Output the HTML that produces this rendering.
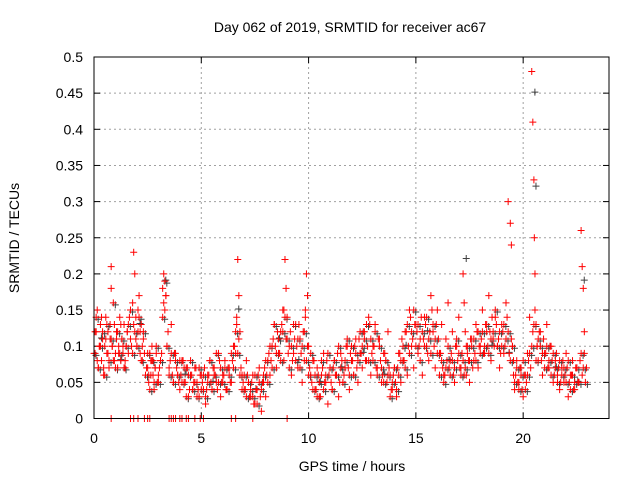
<!DOCTYPE html>
<html><head><meta charset="utf-8"><style>
body{margin:0;background:#fff}
svg{display:block;font-family:"Liberation Sans",sans-serif}
</style></head><body>
<svg id="chart" width="640" height="480">
<text x="350" y="32" text-anchor="middle" font-size="14">Day 062 of 2019, SRMTID for receiver ac67</text>
<text x="352" y="471" text-anchor="middle" font-size="14">GPS time / hours</text>
<text transform="translate(19,238) rotate(-90)" text-anchor="middle" font-size="14">SRMTID / TECUs</text>
<g id="grid"></g><g id="axes"></g><g id="gray"></g><g id="red"></g>
<rect x="94" y="57" width="515" height="361.5" fill="none" stroke="#000" stroke-width="1"/>
</svg>
<script>
const xTicks=[0,5,10,15,20];
const yTicks=[0,0.05,0.1,0.15,0.2,0.25,0.3,0.35,0.4,0.45,0.5];
const yTickLabels=["0","0.05","0.1","0.15","0.2","0.25","0.3","0.35","0.4","0.45","0.5"];
const redT=[0.05,0.1,0.15,0.2,0.25,0.3,0.35,0.4,0.45,0.5,0.55,0.6,0.65,0.7,0.75,0.8,0.8,0.85,0.9,0.95,1.0,1.05,1.1,1.15,1.2,1.25,1.3,1.35,1.4,1.45,1.5,1.55,1.6,1.7,1.8,1.85,1.9,1.95,2.0,2.05,2.1,2.15,2.2,2.25,2.3,2.5,2.55,2.6,2.65,2.7,2.75,2.8,2.85,2.9,3.0,3.1,3.2,3.25,3.3,3.35,3.4,3.5,3.6,3.7,3.8,3.9,4.0,4.1,4.2,4.3,4.4,4.5,4.6,4.7,4.8,4.9,5.0,5.1,5.2,5.3,5.4,5.5,5.6,5.7,5.8,5.9,6.0,6.1,6.2,6.3,6.4,6.5,6.6,6.65,6.7,6.75,6.8,6.9,7.0,7.1,7.2,7.3,7.4,7.5,7.6,7.7,7.8,7.9,8.0,8.1,8.2,8.3,8.4,8.5,8.6,8.7,8.8,8.85,8.9,8.95,9.0,9.1,9.2,9.3,9.4,9.5,9.6,9.7,9.8,9.85,9.9,9.95,10.0,10.1,10.2,10.3,10.4,10.5,10.6,10.7,10.8,10.9,11.0,11.1,11.2,11.3,11.4,11.5,11.6,11.7,11.8,11.9,12.0,12.1,12.2,12.3,12.4,12.5,12.6,12.7,12.8,12.9,13.0,13.1,13.2,13.3,13.4,13.5,13.6,13.7,13.8,13.9,14.0,14.1,14.2,14.3,14.4,14.5,14.6,14.7,14.8,14.9,15.0,15.1,15.2,15.3,15.4,15.5,15.6,15.7,15.8,15.9,16.0,16.1,16.2,16.3,16.4,16.5,16.6,16.7,16.8,16.9,17.0,17.1,17.2,17.25,17.3,17.35,17.4,17.5,17.6,17.7,17.8,17.9,18.0,18.1,18.2,18.3,18.4,18.5,18.6,18.7,18.8,18.9,19.0,19.1,19.2,19.3,19.4,19.45,19.5,19.55,19.6,19.7,19.8,19.9,20.0,20.1,20.2,20.3,20.4,20.45,20.5,20.52,20.55,20.6,20.65,20.7,20.8,20.9,21.0,21.1,21.2,21.3,21.4,21.5,21.6,21.7,21.8,21.9,22.0,22.1,22.2,22.3,22.4,22.5,22.6,22.7,22.75,22.8,22.85];
const redV=[0.09,0.12,0.15,0.07,0.1,0.13,0.08,0.11,0.06,0.1,0.14,0.09,0.12,0.07,0.11,0.21,0.18,0.1,0.08,0.13,0.09,0.12,0.07,0.1,0.14,0.08,0.11,0.09,0.13,0.07,0.1,0.12,0.09,0.11,0.16,0.23,0.2,0.14,0.1,0.12,0.17,0.09,0.13,0.08,0.11,0.07,0.05,0.09,0.06,0.1,0.08,0.04,0.07,0.09,0.06,0.08,0.18,0.2,0.15,0.17,0.1,0.07,0.13,0.05,0.09,0.06,0.04,0.08,0.05,0.07,0.03,0.06,0.04,0.07,0.05,0.03,0.06,0.04,0.02,0.06,0.08,0.04,0.07,0.05,0.09,0.03,0.06,0.08,0.04,0.07,0.05,0.1,0.09,0.13,0.22,0.17,0.12,0.06,0.04,0.08,0.05,0.03,0.06,0.02,0.04,0.07,0.01,0.05,0.03,0.08,0.06,0.1,0.13,0.07,0.09,0.12,0.15,0.08,0.22,0.18,0.14,0.1,0.06,0.09,0.13,0.07,0.11,0.05,0.08,0.14,0.2,0.17,0.1,0.06,0.08,0.04,0.07,0.03,0.06,0.09,0.05,0.02,0.07,0.04,0.08,0.06,0.03,0.09,0.05,0.07,0.1,0.04,0.08,0.06,0.11,0.05,0.09,0.07,0.12,0.08,0.14,0.06,0.1,0.13,0.07,0.11,0.05,0.09,0.08,0.12,0.06,0.04,0.07,0.03,0.09,0.05,0.08,0.12,0.06,0.15,0.1,0.07,0.13,0.09,0.11,0.06,0.14,0.1,0.08,0.17,0.12,0.07,0.15,0.09,0.13,0.06,0.11,0.16,0.08,0.12,0.05,0.1,0.14,0.07,0.2,0.16,0.12,0.06,0.09,0.05,0.11,0.08,0.13,0.07,0.1,0.15,0.09,0.12,0.17,0.08,0.11,0.14,0.1,0.07,0.13,0.09,0.16,0.3,0.27,0.24,0.1,0.06,0.04,0.08,0.05,0.07,0.03,0.06,0.09,0.14,0.48,0.41,0.33,0.25,0.2,0.13,0.1,0.08,0.12,0.06,0.09,0.13,0.07,0.1,0.05,0.08,0.06,0.04,0.07,0.05,0.09,0.03,0.06,0.08,0.04,0.07,0.05,0.26,0.21,0.18,0.12];
const redT2=[0.05,0.15,0.25,0.35,0.45,0.55,0.65,0.75,0.85,0.95,1.05,1.15,1.25,1.35,1.45,1.55,1.65,1.75,1.85,1.95,2.05,2.15,2.25,2.35,2.45,2.55,2.65,2.75,2.85,2.95,3.05,3.15,3.25,3.35,3.45,3.55,3.65,3.75,3.85,3.95,4.05,4.15,4.25,4.35,4.45,4.55,4.65,4.75,4.85,4.95,5.05,5.15,5.25,5.35,5.45,5.55,5.65,5.75,5.85,5.95,6.05,6.15,6.25,6.35,6.45,6.55,6.65,6.75,6.85,6.95,7.05,7.15,7.25,7.35,7.45,7.55,7.65,7.75,7.85,7.95,8.05,8.15,8.25,8.35,8.45,8.55,8.65,8.75,8.85,8.95,9.05,9.15,9.25,9.35,9.45,9.55,9.65,9.75,9.85,9.95,10.05,10.15,10.25,10.35,10.45,10.55,10.65,10.75,10.85,10.95,11.05,11.15,11.25,11.35,11.45,11.55,11.65,11.75,11.85,11.95,12.05,12.15,12.25,12.35,12.45,12.55,12.65,12.75,12.85,12.95,13.05,13.15,13.25,13.35,13.45,13.55,13.65,13.75,13.85,13.95,14.05,14.15,14.25,14.35,14.45,14.55,14.65,14.75,14.85,14.95,15.05,15.15,15.25,15.35,15.45,15.55,15.65,15.75,15.85,15.95,16.05,16.15,16.25,16.35,16.45,16.55,16.65,16.75,16.85,16.95,17.05,17.15,17.25,17.35,17.45,17.55,17.65,17.75,17.85,17.95,18.05,18.15,18.25,18.35,18.45,18.55,18.65,18.75,18.85,18.95,19.05,19.15,19.25,19.35,19.45,19.55,19.65,19.75,19.85,19.95,20.05,20.15,20.25,20.35,20.45,20.55,20.65,20.75,20.85,20.95,21.05,21.15,21.25,21.35,21.45,21.55,21.65,21.75,21.85,21.95,22.05,22.15,22.25,22.35,22.45,22.55,22.65,22.75,22.85,22.95];
const redV2=[0.12,0.08,0.1,0.14,0.07,0.11,0.09,0.13,0.1,0.08,
0.11,0.09,0.13,0.1,0.08,0.12,0.14,0.1,0.13,0.11,
0.15,0.12,0.1,0.09,0.07,0.06,0.08,0.06,0.07,0.05,
0.07,0.09,0.16,0.17,0.12,0.08,0.06,0.09,0.07,0.05,
0.06,0.08,0.05,0.07,0.04,0.06,0.05,0.07,0.04,0.06,
0.05,0.07,0.04,0.06,0.05,0.07,0.06,0.04,0.08,0.05,
0.06,0.04,0.07,0.05,0.08,0.1,0.14,0.11,0.07,0.05,
0.04,0.06,0.03,0.05,0.02,0.04,0.06,0.03,0.05,0.07,
0.06,0.09,0.08,0.11,0.1,0.12,0.09,0.13,0.15,0.11,
0.09,0.12,0.08,0.11,0.1,0.13,0.09,0.12,0.15,0.1,
0.07,0.05,0.08,0.04,0.06,0.03,0.07,0.05,0.08,0.06,
0.05,0.07,0.06,0.09,0.05,0.08,0.06,0.1,0.07,0.09,
0.08,0.1,0.07,0.11,0.09,0.12,0.08,0.1,0.13,0.09,
0.1,0.07,0.11,0.08,0.06,0.09,0.05,0.07,0.04,0.06,
0.05,0.07,0.09,0.11,0.08,0.12,0.1,0.14,0.11,0.13,
0.12,0.1,0.14,0.11,0.13,0.09,0.12,0.15,0.1,0.13,
0.11,0.09,0.07,0.06,0.08,0.07,0.09,0.06,0.1,0.08,
0.07,0.09,0.06,0.1,0.08,0.11,0.07,0.09,0.12,0.1,
0.11,0.09,0.13,0.1,0.12,0.14,0.1,0.13,0.11,0.09,
0.12,0.1,0.14,0.09,0.11,0.08,0.06,0.05,0.07,0.04,
0.06,0.05,0.08,0.07,0.12,0.15,0.1,0.12,0.08,0.11,
0.09,0.07,0.1,0.08,0.06,0.09,0.07,0.05,0.08,0.06,
0.07,0.05,0.06,0.04,0.07,0.05,0.08,0.06,0.09,0.07];
const redT3=[0.0,0.1,0.2,0.3,0.4,0.5,0.6,0.7,0.8,0.9,1.0,1.1,1.2,1.3,1.4,1.5,1.6,1.7,1.8,1.9,2.0,2.1,2.2,2.3,2.4,2.5,2.6,2.7,2.8,2.9,3.0,3.1,3.2,3.3,3.4,3.5,3.6,3.7,3.8,3.9,4.0,4.1,4.2,4.3,4.4,4.5,4.6,4.7,4.8,4.9,5.0,5.1,5.2,5.3,5.4,5.5,5.6,5.7,5.8,5.9,6.0,6.1,6.2,6.3,6.4,6.5,6.6,6.7,6.8,6.9,7.0,7.1,7.2,7.3,7.4,7.5,7.6,7.7,7.8,7.9,8.0,8.1,8.2,8.3,8.4,8.5,8.6,8.7,8.8,8.9,9.0,9.1,9.2,9.3,9.4,9.5,9.6,9.7,9.8,9.9,10.0,10.1,10.2,10.3,10.4,10.5,10.6,10.7,10.8,10.9,11.0,11.1,11.2,11.3,11.4,11.5,11.6,11.7,11.8,11.9,12.0,12.1,12.2,12.3,12.4,12.5,12.6,12.7,12.8,12.9,13.0,13.1,13.2,13.3,13.4,13.5,13.6,13.7,13.8,13.9,14.0,14.1,14.2,14.3,14.4,14.5,14.6,14.7,14.8,14.9,15.0,15.1,15.2,15.3,15.4,15.5,15.6,15.7,15.8,15.9,16.0,16.1,16.2,16.3,16.4,16.5,16.6,16.7,16.8,16.9,17.0,17.1,17.2,17.3,17.4,17.5,17.6,17.7,17.8,17.9,18.0,18.1,18.2,18.3,18.4,18.5,18.6,18.7,18.8,18.9,19.0,19.1,19.2,19.3,19.4,19.5,19.6,19.7,19.8,19.9,20.0,20.1,20.2,20.3,20.4,20.5,20.6,20.7,20.8,20.9,21.0,21.1,21.2,21.3,21.4,21.5,21.6,21.7,21.8,21.9,22.0,22.1,22.2,22.3,22.4,22.5,22.6,22.7,22.8,22.9];
const redV3=[0.09,0.14,0.07,0.1,0.12,0.06,0.13,0.08,0.11,0.16,
0.07,0.12,0.09,0.11,0.07,0.1,0.13,0.15,0.09,0.12,
0.1,0.14,0.08,0.12,0.06,0.09,0.04,0.08,0.05,0.1,
0.05,0.08,0.14,0.19,0.1,0.06,0.09,0.05,0.08,0.06,
0.08,0.05,0.07,0.03,0.06,0.08,0.04,0.05,0.03,0.07,
0.04,0.06,0.03,0.05,0.08,0.04,0.06,0.09,0.05,0.07,
0.05,0.07,0.04,0.06,0.09,0.07,0.12,0.09,0.06,0.04,
0.06,0.03,0.05,0.04,0.03,0.06,0.02,0.05,0.04,0.06,
0.08,0.05,0.1,0.07,0.13,0.09,0.11,0.08,0.12,0.14,
0.11,0.07,0.1,0.13,0.08,0.11,0.07,0.1,0.12,0.08,
0.06,0.09,0.04,0.06,0.03,0.05,0.08,0.04,0.06,0.09,
0.07,0.04,0.08,0.06,0.1,0.07,0.05,0.08,0.11,0.06,
0.1,0.06,0.09,0.08,0.12,0.1,0.11,0.13,0.08,0.11,
0.08,0.12,0.06,0.1,0.07,0.05,0.08,0.06,0.03,0.05,
0.07,0.04,0.06,0.08,0.1,0.07,0.13,0.09,0.12,0.15,
0.1,0.13,0.08,0.12,0.1,0.14,0.11,0.09,0.13,0.11,
0.09,0.06,0.08,0.05,0.07,0.1,0.06,0.08,0.07,0.11,
0.09,0.06,0.08,0.07,0.1,0.08,0.1,0.11,0.08,0.12,
0.09,0.12,0.1,0.13,0.09,0.11,0.12,0.15,0.1,0.12,
0.1,0.13,0.11,0.12,0.08,0.1,0.05,0.07,0.04,0.06,
0.08,0.04,0.06,0.09,0.1,0.13,0.08,0.11,0.1,0.09,
0.07,0.1,0.08,0.06,0.09,0.07,0.05,0.08,0.06,0.07,
0.05,0.08,0.04,0.06,0.05,0.07,0.05,0.09,0.07,0.05];
const grayT=[0.3,1.2,2.1,3.3,4.2,5.5,6.7,7.5,8.6,9.5,10.5,11.5,12.5,13.5,14.5,15.5,16.5,17.3,18.5,19.3,20.5,20.55,21.5,22.5,22.8];
const grayV=[0.11,0.08,0.13,0.19,0.06,0.05,0.15,0.04,0.11,0.08,0.05,0.07,0.09,0.06,0.1,0.12,0.08,0.22,0.1,0.09,0.45,0.32,0.07,0.05,0.19];
const zeroT=[0.8,1.7,1.85,2.05,2.35,2.5,2.6,3.5,3.6,3.7,3.8,4.0,4.1,4.3,4.4,4.7,4.95,5.1,6.4,6.6,7.4,9.0];
const X0=94,X1=609,Y0=418.5,Y1=57;
function sx(t){return X0+(X1-X0)*t/24;}
function sy(v){return Y0-(Y0-Y1)*v/0.5;}
const NS="http://www.w3.org/2000/svg";
function mk(tag,at,parent){const e=document.createElementNS(NS,tag);for(const k in at)e.setAttribute(k,at[k]);parent.appendChild(e);return e;}
const grid=document.getElementById('grid'),axes=document.getElementById('axes');
xTicks.forEach(t=>{const x=sx(t);
 if(t>0){const l=mk('line',{x1:x,x2:x,y1:Y1,y2:Y0,stroke:'#a0a0a0','stroke-dasharray':'2,3'},grid);
 
 }
 const tk=mk('line',{x1:x,x2:x,y1:Y0,y2:Y0-6,stroke:'#000'},axes);
 
 
 const tk2=mk('line',{x1:x,x2:x,y1:Y1,y2:Y1+6,stroke:'#000'},axes);
 
 
 const tx=mk('text',{x:x,y:443,'text-anchor':'middle','font-size':14},axes);tx.textContent=String(t);
 
 });
yTicks.forEach((v,i)=>{const y=sy(v);
 if(i>0&&i<yTicks.length-1){const l=mk('line',{x1:X0,x2:X1,y1:y,y2:y,stroke:'#a0a0a0','stroke-dasharray':'2,3'},grid);
 
 }
 const tk=mk('line',{x1:X0,x2:X0+6,y1:y,y2:y,stroke:'#000'},axes);
 
 
 const tk2=mk('line',{x1:X1,x2:X1-6,y1:y,y2:y,stroke:'#000'},axes);
 
 
 const tx=mk('text',{x:83,y:y+5,'text-anchor':'end','font-size':14},axes);tx.textContent=yTickLabels[i];
 
 });
function plus(g,x,y,c){const p=mk('path',{d:`M${x-3.5},${y}H${x+3.5}M${x},${y-3.5}V${y+3.5}`,stroke:c,'stroke-width':1,fill:'none'},g);return p;}
const gg=document.getElementById('gray'),rg=document.getElementById('red');
grayT.forEach((t,i)=>{const p=plus(gg,sx(t)+1,sy(grayV[i])-1,'#404040');
 
 });
redT3.forEach((t,i)=>{const p=plus(gg,sx(t)+2,sy(redV3[i])+2,'#404040');
 
 });
redT.forEach((t,i)=>{const p=plus(rg,sx(t),sy(redV[i]),'#ff0000');
 
 });
redT2.forEach((t,i)=>{const p=plus(rg,sx(t),sy(redV2[i]),'#ff0000');
 
 });
redT3.forEach((t,i)=>{const p=plus(rg,sx(t),sy(redV3[i]),'#ff0000');
 
 });
zeroT.forEach(t=>{const p=plus(rg,sx(t),Y0,'#ff0000');
 
 });
</script>
</body></html>
